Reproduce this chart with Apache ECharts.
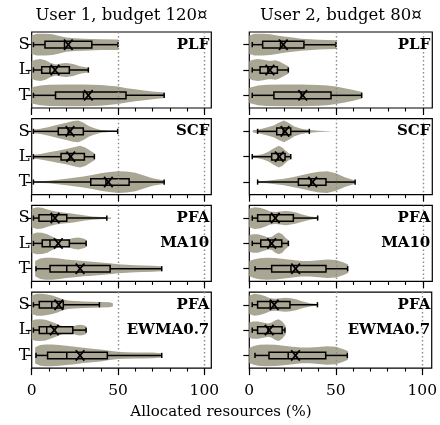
<!DOCTYPE html>
<html><head><meta charset="utf-8">
<script src="https://cdn.jsdelivr.net/npm/echarts@6/dist/echarts.min.js"></script>
<style>html,body{margin:0;padding:0;background:#fff}#c{width:440px;height:425px}</style>
</head><body><div id="c"></div><script>
const categories = ['S', 'L', 'T'];
const columnTitles = ['User 1, budget 120¤', 'User 2, budget 80¤'];
const panelLabels = [['PLF'], ['SCF'], ['PFA', 'MA10'], ['PFA', 'EWMA0.7']];
const majorTicks = [0, 50, 100];
const minorTicks = [0, 10, 20, 30, 40, 50, 60, 70, 80, 90, 100];
const refLines = [50, 100];
const axisTitle = 'Allocated resources (%)';

// box: [low whisker, Q1, median, Q3, high whisker] per row S, L, T
const u1PLF_box = [[1, 7.7, 19, 34.8, 50], [1, 5.8, 10.6, 21.8, 32.8], [1, 13.8, 30, 54.6, 76.7]];
const u1PLF_mean = [21.2, 13.5, 32.8];
const u1PLF_vx = [[0, 3, 8, 12, 16, 20, 25, 30, 40, 50], [0, 2, 5, 8, 11, 14, 17, 20, 24, 28, 33], [0, 5, 10, 20, 30, 40, 50, 55, 60, 65, 70, 77]];
const u1PLF_vw = [[0.85, 1, 1, 0.95, 0.8, 0.65, 0.58, 0.55, 0.5, 0.48], [0.8, 0.95, 1, 0.9, 0.65, 0.5, 0.6, 0.65, 0.55, 0.35, 0.2], [0.75, 0.9, 0.97, 1, 1, 0.95, 0.8, 0.65, 0.55, 0.45, 0.35, 0.25]];

const u2PLF_box = [[1.7, 7.7, 18, 31.5, 50], [1.7, 6.2, 10.7, 16.2, 22.5], [1.7, 14.2, 30, 47.1, 64.8]];
const u2PLF_mean = [19.6, 11.9, 30.8];
const u2PLF_vx = [[0, 3, 8, 12, 16, 20, 25, 30, 40, 50], [0, 2, 5, 8, 11, 13, 15, 17, 20, 22.5], [0, 5, 10, 20, 30, 40, 45, 50, 55, 60, 65]];
const u2PLF_vw = [[0.85, 1, 1, 0.95, 0.85, 0.75, 0.65, 0.55, 0.45, 0.4], [0.8, 0.95, 1, 0.95, 0.85, 0.85, 0.9, 0.8, 0.55, 0.35], [0.7, 0.9, 0.98, 1, 1, 0.95, 0.9, 0.8, 0.65, 0.5, 0.3]];

const u1SCF_box = [[1, 15.4, 21.2, 29.9, 49.8], [1, 17, 22, 30.5, 36.3], [1, 34.2, 43, 56.4, 76.7]];
const u1SCF_mean = [22.2, 22.6, 44.4];
const u1SCF_vx = [[0, 5, 10, 15, 20, 24, 27, 30, 33, 36, 40, 45, 50], [0, 5, 10, 15, 20, 25, 28, 31, 34, 36.5], [0, 5, 10, 20, 30, 35, 40, 45, 50, 55, 60, 65, 70, 77]];
const u1SCF_vw = [[0.15, 0.25, 0.4, 0.6, 0.8, 0.95, 1, 0.8, 0.5, 0.3, 0.12, 0.05, 0.03], [0.15, 0.25, 0.4, 0.55, 0.7, 0.9, 1, 0.85, 0.55, 0.3], [0.05, 0.08, 0.12, 0.3, 0.5, 0.65, 0.8, 0.92, 1, 0.97, 0.85, 0.6, 0.35, 0.15]];

const u2SCF_box = [[4.8, 15.8, 19.6, 23.9, 34.6], [1.7, 12.9, 16.7, 20.6, 23.9], [4.8, 28.3, 35.5, 44.2, 61]];
const u2SCF_mean = [20.6, 17.3, 36.5];
const u2SCF_vx = [[2, 6, 10, 14, 17, 20, 23, 26, 30, 35, 40, 47], [1.5, 5, 8, 11, 14, 17, 19, 21, 23, 24], [4.8, 10, 15, 20, 25, 30, 35, 40, 45, 50, 55, 61]];
const u2SCF_vw = [[0.1, 0.2, 0.35, 0.55, 0.8, 1, 0.75, 0.45, 0.25, 0.12, 0.06, 0.02], [0.1, 0.15, 0.25, 0.45, 0.75, 1, 0.85, 0.55, 0.3, 0.2], [0.08, 0.12, 0.2, 0.3, 0.45, 0.62, 0.8, 0.95, 1, 0.8, 0.45, 0.15]];

const u1MA10_box = [[1, 4.2, 11.6, 20.3, 43.5], [1, 6.1, 10.6, 21.8, 31.5], [2.5, 10.6, 20.3, 45.4, 75.3]];
const u1MA10_mean = [13.5, 15.4, 28];
const u1MA10_vx = [[0, 3, 6, 10, 14, 18, 22, 26, 30, 35, 40, 46], [0, 3, 6, 9, 12, 15, 18, 21, 24, 27, 30, 32], [2, 5, 8, 12, 16, 20, 25, 30, 35, 40, 45, 50, 55, 60, 65, 70, 75]];
const u1MA10_vw = [[0.85, 1, 0.95, 0.75, 0.6, 0.5, 0.45, 0.35, 0.25, 0.15, 0.1, 0.06], [0.85, 1, 0.98, 0.85, 0.6, 0.4, 0.3, 0.35, 0.5, 0.55, 0.45, 0.3], [0.7, 0.95, 1, 1, 0.95, 0.85, 0.78, 0.7, 0.65, 0.58, 0.5, 0.42, 0.36, 0.32, 0.3, 0.27, 0.22]];

const u2MA10_box = [[1.7, 4.8, 12, 25.4, 39.4], [1.7, 6.6, 12, 18.7, 22.5], [3.3, 12.9, 24, 44.2, 56.7]];
const u2MA10_mean = [15, 12.9, 26.7];
const u2MA10_vx = [[0, 3, 6, 9, 12, 15, 18, 21, 24, 27, 30, 35, 40], [0, 2, 5, 8, 11, 13, 15, 17, 19, 21, 23], [0, 3, 6, 10, 15, 20, 25, 30, 35, 40, 45, 50, 54, 57]];
const u2MA10_vw = [[0.85, 1, 0.95, 0.8, 0.6, 0.55, 0.6, 0.65, 0.6, 0.5, 0.35, 0.15, 0.05], [0.75, 0.85, 0.85, 0.7, 0.55, 0.6, 0.85, 1, 0.85, 0.5, 0.25], [0.7, 0.88, 0.97, 1, 0.98, 0.9, 0.8, 0.72, 0.72, 0.78, 0.85, 0.8, 0.6, 0.4]];

const u1EWMA_box = [[1, 4.4, 11.6, 18.3, 39.2], [1, 4.4, 8.7, 23.8, 31.5], [2.5, 9.2, 20.3, 43.8, 75.3]];
const u1EWMA_mean = [15.7, 13.1, 28];
const u1EWMA_vx = [[0, 3, 6, 9, 12, 15, 18, 21, 25, 30, 35, 40, 45, 47], [0, 2, 5, 8, 11, 14, 17, 20, 23, 26, 28, 30, 31.5], [2, 5, 8, 12, 16, 20, 25, 30, 35, 40, 45, 50, 55, 60, 65, 70, 75]];
const u1EWMA_vw = [[0.85, 1, 1, 0.95, 0.85, 0.7, 0.5, 0.4, 0.35, 0.3, 0.27, 0.25, 0.22, 0.15], [0.85, 0.97, 1, 0.95, 0.8, 0.6, 0.4, 0.3, 0.3, 0.45, 0.5, 0.45, 0.35], [0.75, 0.95, 1, 1, 0.95, 0.88, 0.8, 0.7, 0.62, 0.55, 0.42, 0.33, 0.3, 0.28, 0.28, 0.26, 0.2]];

const u2EWMA_box = [[1.7, 4.8, 12.1, 23.5, 39.4], [1.7, 4.8, 10.8, 19, 20.6], [3.3, 11.4, 22.5, 44.2, 56.7]];
const u2EWMA_mean = [14.4, 11.5, 26.7];
const u2EWMA_vx = [[0, 3, 6, 9, 12, 15, 18, 21, 24, 27, 30, 35, 40], [0, 2, 5, 8, 11, 13, 15, 17, 19, 21], [0, 3, 6, 10, 15, 20, 25, 30, 35, 40, 45, 50, 54, 57]];
const u2EWMA_vw = [[0.85, 1, 0.95, 0.8, 0.6, 0.55, 0.6, 0.65, 0.6, 0.5, 0.35, 0.15, 0.05], [0.7, 0.8, 0.8, 0.7, 0.6, 0.7, 0.9, 1, 0.8, 0.4], [0.7, 0.88, 0.97, 1, 0.98, 0.9, 0.8, 0.72, 0.72, 0.78, 0.85, 0.8, 0.6, 0.4]];

// ---------- layout / styling ----------
const FONT = 'DejaVu Serif';
const VIOLIN = '#aaa694';
const colLeft = [31.7, 249.3];
const colWidth = [179.6, 183];
const colMax = [104, 105.5];
const rowTop = [32, 118.7, 205.4, 292.1];
const rowH = 76;

const panels = [
  [u1PLF_box, u1PLF_mean, u1PLF_vx, u1PLF_vw], [u2PLF_box, u2PLF_mean, u2PLF_vx, u2PLF_vw],
  [u1SCF_box, u1SCF_mean, u1SCF_vx, u1SCF_vw], [u2SCF_box, u2SCF_mean, u2SCF_vx, u2SCF_vw],
  [u1MA10_box, u1MA10_mean, u1MA10_vx, u1MA10_vw], [u2MA10_box, u2MA10_mean, u2MA10_vx, u2MA10_vw],
  [u1EWMA_box, u1EWMA_mean, u1EWMA_vx, u1EWMA_vw], [u2EWMA_box, u2EWMA_mean, u2EWMA_vx, u2EWMA_vw]
];

function makeRender(box, mean, vx, vw) {
  return function (params, api) {
    const r = api.value(1);
    const band = api.size([0, 1])[1];
    const maxHalf = band * 0.43;
    const xs = vx[r], ws = vw[r];
    const up = [], lo = [];
    for (let i = 0; i < xs.length; i++) {
      const p = api.coord([xs[i], r]);
      up.push([p[0], p[1] - ws[i] * maxHalf]);
      lo.push([p[0], p[1] + ws[i] * maxHalf]);
    }
    const poly = up.concat(lo.reverse());
    const b = box[r];
    const px = k => api.coord([b[k], r])[0];
    const cy = api.coord([0, r])[1];
    const bh = 3.3, cap = 2.6, mx = 4.3, my = 5.2;
    const pm = api.coord([mean[r], r]);
    const ls = { stroke: '#000', lineWidth: 1.5, fill: null };
    return {
      type: 'group', children: [
        { type: 'polygon', shape: { points: poly }, style: { fill: VIOLIN, stroke: null } },
        { type: 'line', shape: { x1: px(0), y1: cy, x2: px(1), y2: cy }, style: ls },
        { type: 'line', shape: { x1: px(3), y1: cy, x2: px(4), y2: cy }, style: ls },
        { type: 'line', shape: { x1: px(0), y1: cy - cap, x2: px(0), y2: cy + cap }, style: ls },
        { type: 'line', shape: { x1: px(4), y1: cy - cap, x2: px(4), y2: cy + cap }, style: ls },
        { type: 'rect', shape: { x: px(1), y: cy - bh, width: px(3) - px(1), height: 2 * bh }, style: { stroke: '#000', lineWidth: 1.5, fill: 'transparent' } },
        { type: 'line', shape: { x1: px(2), y1: cy - bh, x2: px(2), y2: cy + bh }, style: ls },
        { type: 'line', shape: { x1: pm[0] - mx, y1: cy - my, x2: pm[0] + mx, y2: cy + my }, style: { stroke: '#000', lineWidth: 1.8 } },
        { type: 'line', shape: { x1: pm[0] - mx, y1: cy + my, x2: pm[0] + mx, y2: cy - my }, style: { stroke: '#000', lineWidth: 1.8 } }
      ]
    };
  };
}

const grid = [], xAxis = [], yAxis = [], series = [], graphic = [];
for (let row = 0; row < 4; row++) {
  for (let col = 0; col < 2; col++) {
    const i = row * 2 + col;
    grid.push({ left: colLeft[col], top: rowTop[row], width: colWidth[col], height: rowH, show: true, borderColor: '#000', borderWidth: 1.2, backgroundColor: 'transparent' });
    xAxis.push({
      gridIndex: i, type: 'value', min: 0, max: colMax[col], position: 'bottom',
      axisLine: { show: false }, splitLine: { show: false },
      axisTick: { show: true, customValues: majorTicks, length: 7, lineStyle: { color: '#000', width: 1.2 } },
      axisLabel: { show: row === 3, customValues: majorTicks, fontFamily: FONT, fontSize: 15.5, color: '#000', margin: 15 }
    });
    xAxis.push({
      gridIndex: i, type: 'value', min: 0, max: colMax[col], position: 'bottom',
      axisLine: { show: false }, splitLine: { show: false },
      axisTick: { show: true, customValues: minorTicks, length: 3.5, lineStyle: { color: '#000', width: 1.1 } },
      axisLabel: { show: false }
    });
    yAxis.push({
      gridIndex: i, type: 'category', data: categories, inverse: true,
      axisLine: { show: false }, splitLine: { show: false },
      axisTick: { show: true, alignWithLabel: true, length: 6, lineStyle: { color: '#000', width: 1.2 } },
      axisLabel: { show: col === 0, fontFamily: FONT, fontSize: 16.5, color: '#000', margin: 2 }
    });
    series.push({
      type: 'line', xAxisIndex: 2 * i, yAxisIndex: i, data: [], silent: true, z: 1,
      markLine: { silent: true, symbol: 'none', label: { show: false }, animation: false,
        lineStyle: { type: [1.5, 2.5], color: '#8a8a8a', width: 1.4 },
        data: refLines.map(v => ({ xAxis: v })) }
    });
    const p = panels[i];
    series.push({
      type: 'custom', xAxisIndex: 2 * i, yAxisIndex: i, z: 2,
      data: [[0, 0], [0, 1], [0, 2]], encode: { x: 0, y: 1 },
      renderItem: makeRender(p[0], p[1], p[2], p[3])
    });
    const labs = panelLabels[row];
    labs.forEach((t, k) => {
      graphic.push({
        type: 'text', x: colLeft[col] + colWidth[col] - 2, y: rowTop[row] + rowH * (1 + 2 * k) / 6, z: 10,
        style: { text: t, fontFamily: FONT, fontWeight: 'bold', fontSize: 15, fill: '#000', align: 'right', verticalAlign: 'middle' }
      });
    });
  }
}
columnTitles.forEach((t, col) => {
  graphic.push({
    type: 'text', x: colLeft[col] + colWidth[col] / 2, y: 16,
    style: { text: t, fontFamily: FONT, fontSize: 16.5, fill: '#000', align: 'center', verticalAlign: 'middle' }
  });
});
graphic.push({
  type: 'text', x: 221, y: 412,
  style: { text: axisTitle, fontFamily: FONT, fontSize: 15, fill: '#000', align: 'center', verticalAlign: 'middle' }
});

const chart = echarts.init(document.getElementById('c'), null, { renderer: 'canvas' });
chart.setOption({ animation: false, backgroundColor: '#fff', grid, xAxis, yAxis, series, graphic });
</script></body></html>
